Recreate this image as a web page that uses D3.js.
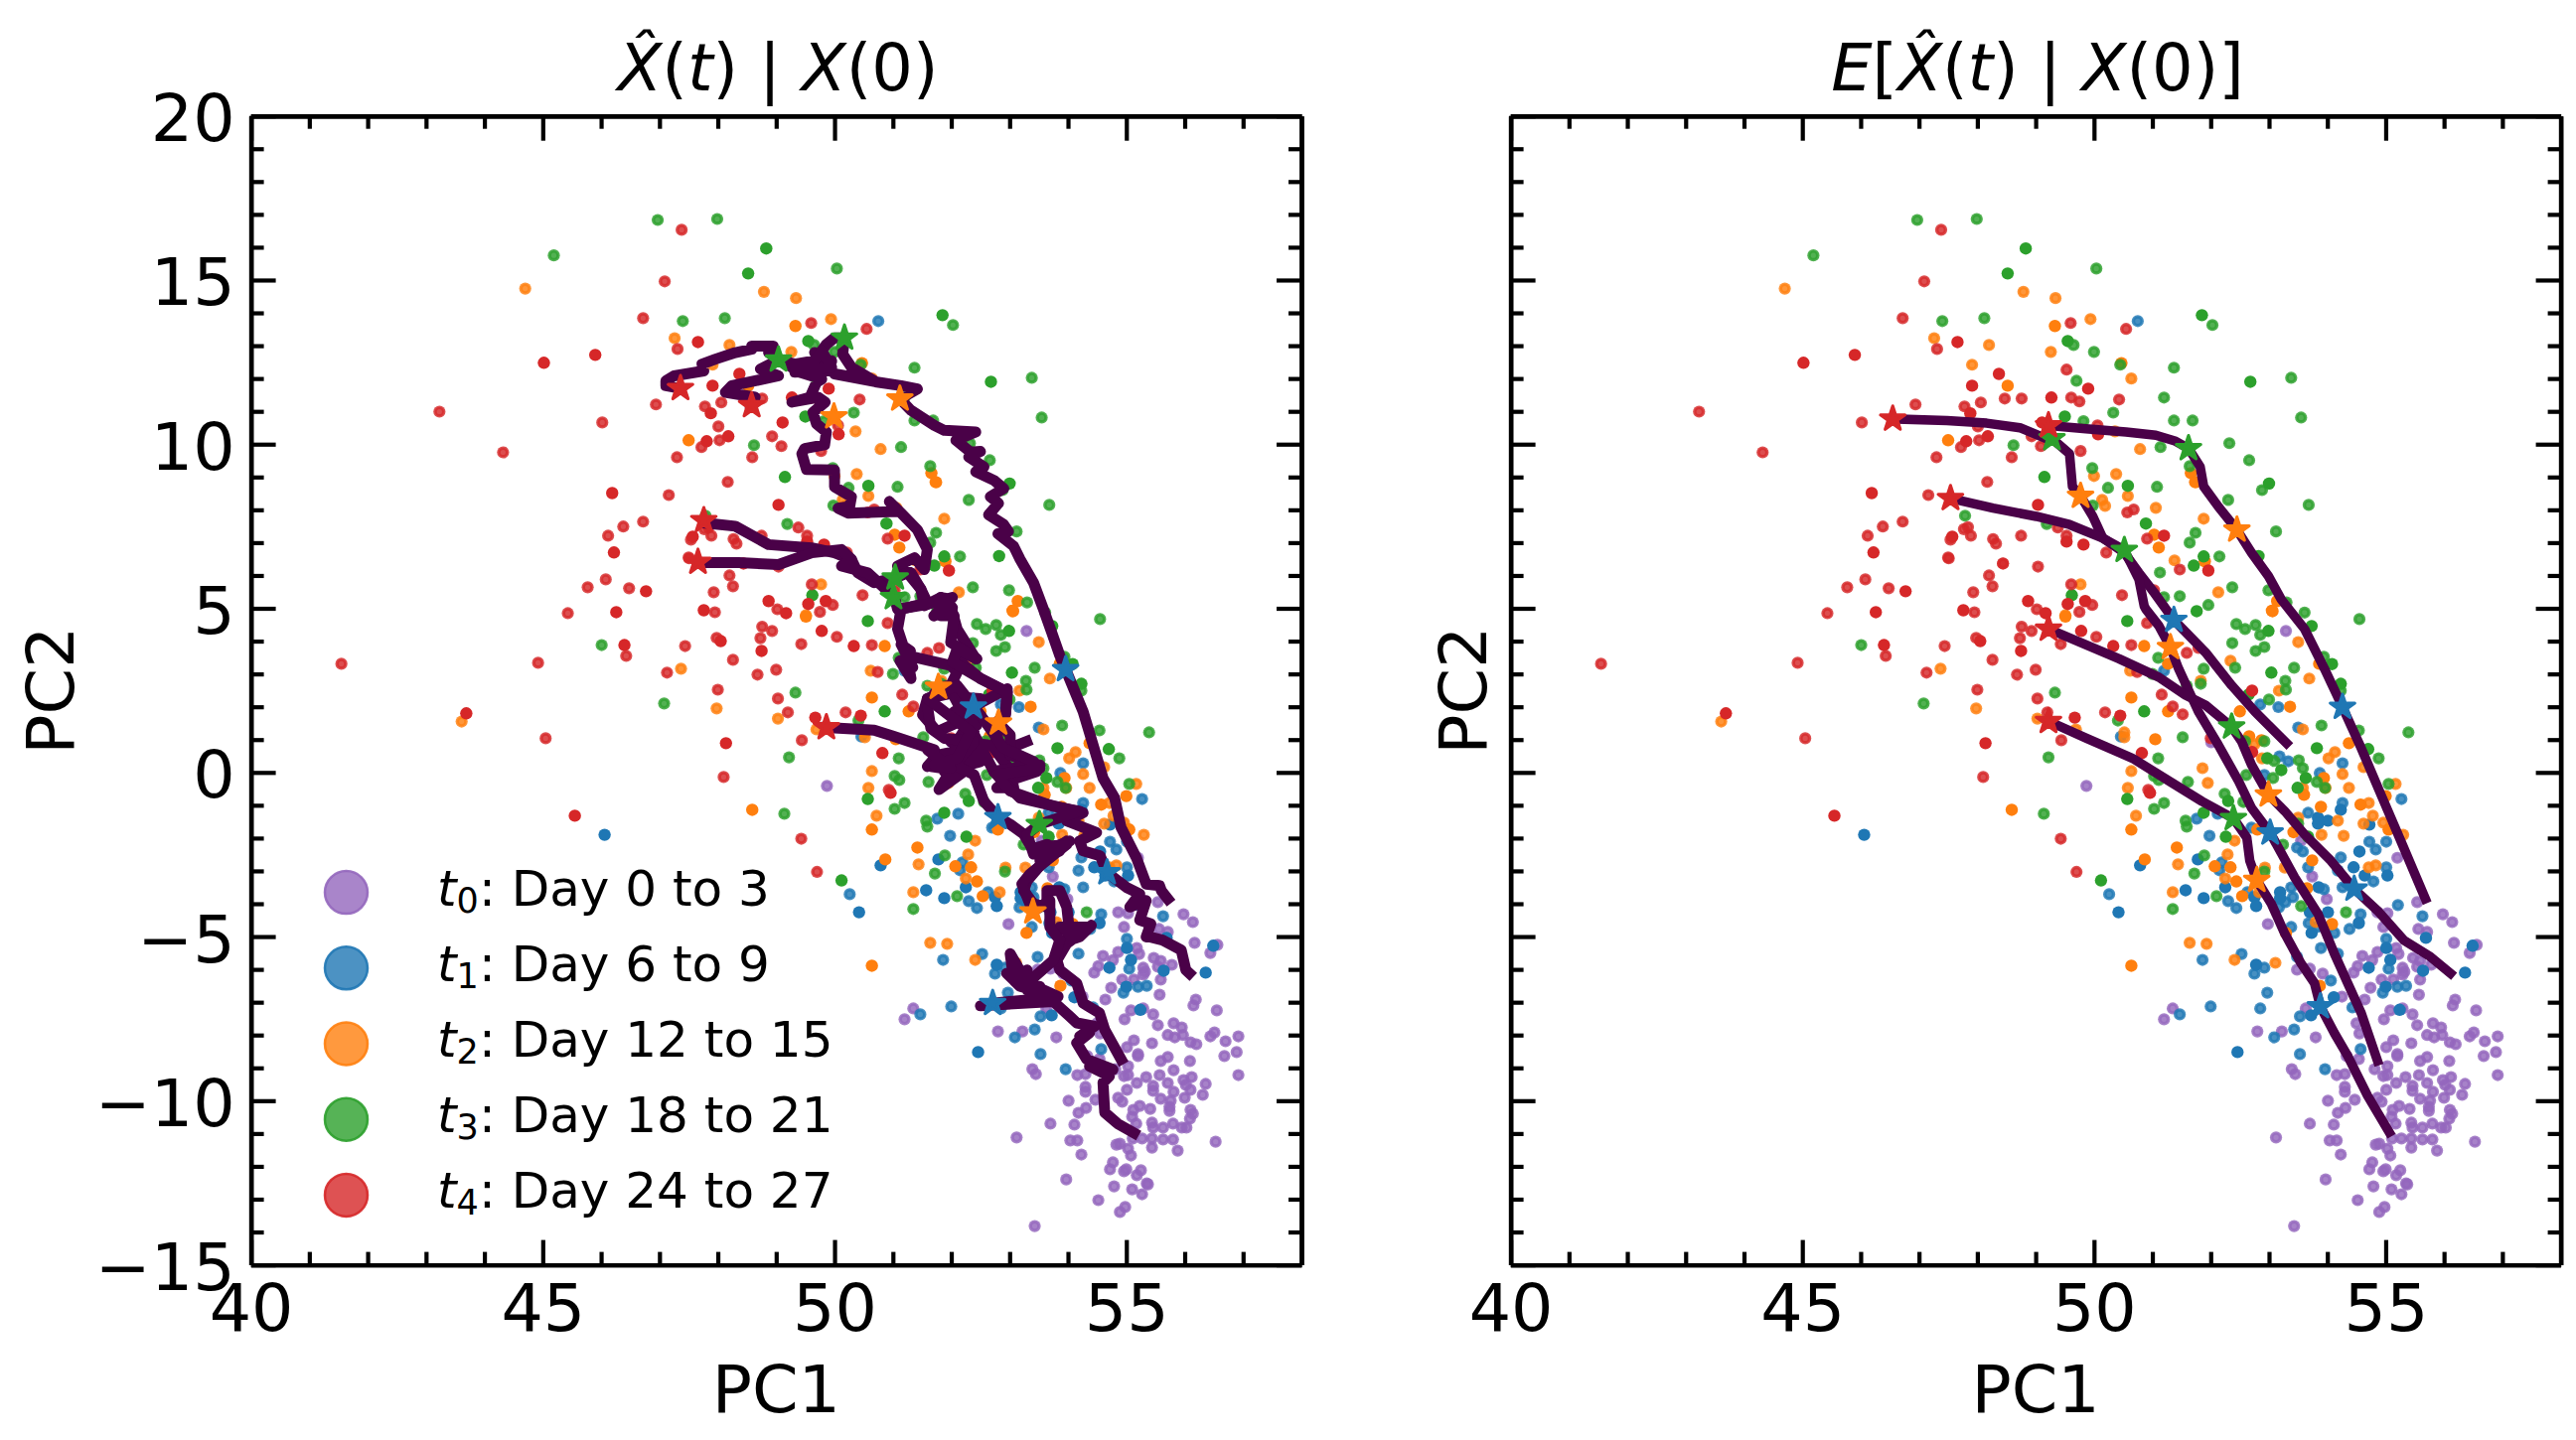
<!DOCTYPE html>
<html lang="en">
<head>
<meta charset="utf-8">
<title>PC trajectories</title>
<script src="https://cdnjs.cloudflare.com/ajax/libs/d3/7.8.5/d3.min.js"></script>
<style>
    html, body { margin: 0; padding: 0; background: #fff; }
    svg { display: block; }
    text { font-family: "DejaVu Sans", sans-serif; fill: #000; }
</style>
</head>
<body>
<div id="chart"></div>
<script>
// scatter points, [PC1, PC2]. "faded" were plotted with alpha, "solid" without
var t0Faded = [[55.2,-2.6],[53.74,-3.17],[53.99,-3.86],[52.98,-4.62],[55.54,-3.95],[55.98,-4.32],[56.14,-4.56],[54.86,-4.26],[55.03,-4.29],[54.96,-4.71],[55.56,-4.77],[55.71,-4.86],[56.17,-5.19],[56.44,-5.5],[56.56,-5.25],[54.86,-5.47],[54.77,-5.72],[54.6,-5.59],[54.52,-5.9],[54.45,-6.1],[55.18,-5.35],[55.22,-5.53],[55.47,-5.65],[55.59,-5.74],[55.54,-5.92],[55.78,-5.86],[55.29,-5.95],[55.32,-6.07],[54.93,-6.31],[55.13,-6.31],[55.29,-6.16],[55.59,-6.31],[53.92,-6.13],[53.7,-5.98],[53.48,-6.01],[54.74,-6.56],[55.57,-6.77],[56.19,-6.92],[56.15,-7.1],[56.55,-7.25],[54.64,-6.92],[54.25,-6.83],[51.35,-7.19],[51.2,-7.52],[52.8,-7.89],[53.22,-7.89],[53.8,-8.07],[53.63,-7.19],[54.5,-7.64],[54.55,-7.95],[54.97,-7.52],[55.08,-7.25],[55.29,-7.19],[55.46,-7.37],[55.54,-7.7],[55.81,-7.64],[55.95,-7.77],[55.71,-8.0],[55.83,-8.07],[55.97,-8.0],[56.1,-8.22],[56.2,-8.28],[56.44,-8.04],[56.51,-7.92],[56.7,-8.19],[56.92,-8.04],[56.68,-8.64],[56.89,-8.52],[56.92,-9.22],[55.13,-8.16],[55.01,-8.37],[55.44,-8.25],[55.2,-8.58],[55.2,-8.64],[55.71,-8.67],[55.59,-8.79],[56.09,-8.79],[54.54,-8.73],[54.33,-8.64],[55.03,-8.95],[54.81,-9.04],[54.96,-9.25],[55.03,-9.22],[55.81,-9.07],[55.57,-9.22],[55.34,-9.28],[55.18,-9.46],[55.46,-9.55],[55.71,-9.46],[56.12,-9.28],[55.98,-9.37],[56.02,-9.52],[56.36,-9.49],[56.1,-9.67],[55.46,-9.7],[55.81,-9.73],[55.01,-9.67],[56.31,-9.82],[56.0,-9.91],[55.59,-9.94],[55.76,-10.0],[54.3,-9.58],[54.3,-9.73],[54.16,-9.22],[54.3,-9.19],[53.39,-9.04],[53.45,-9.19],[54.01,-10.0],[54.47,-9.97],[54.31,-10.22],[54.18,-10.37],[54.86,-9.91],[54.93,-10.03],[55.12,-10.28],[55.23,-10.16],[55.41,-10.25],[55.74,-10.19],[55.74,-10.31],[56.1,-10.28],[56.14,-10.4],[56.09,-10.55],[55.1,-10.49],[55.17,-10.7],[55.44,-10.67],[55.46,-10.82],[55.63,-10.82],[55.8,-10.7],[55.95,-10.82],[56.03,-10.82],[54.11,-10.73],[53.7,-10.7],[53.12,-11.12],[54.04,-11.21],[54.16,-11.21],[54.23,-11.64],[54.83,-11.34],[54.89,-11.31],[55.03,-11.46],[55.08,-11.67],[55.11,-11.15],[55.27,-11.15],[55.44,-11.15],[55.44,-11.43],[55.63,-11.18],[55.8,-11.18],[55.88,-11.52],[56.53,-11.25],[54.77,-11.88],[54.72,-12.09],[54.96,-12.15],[55.0,-12.09],[55.25,-12.12],[55.18,-12.27],[55.35,-12.52],[55.37,-12.55],[53.97,-12.4],[54.79,-12.61],[55.1,-12.7],[55.27,-12.85],[54.52,-13.03],[54.98,-13.24],[54.89,-13.39],[53.43,-13.82],[53.29,4.31],[49.87,-0.41],[52.01,0.92],[53.55,-2.08]];

var t1Faded = [[50.75,13.75],[50.26,-3.71],[52.3,-3.92],[52.44,-4.13],[51.98,-1.93],[52.12,-1.26],[51.76,-1.41],[50.46,1.09],[51.2,3.1],[52.19,-2.74],[52.15,-2.98],[52.7,-1.68],[53.16,1.99],[52.85,2.07],[53.5,1.37],[53.18,0.49],[53.33,0.34],[52.92,-0.08],[54.26,0.28],[53.87,-0.02],[55.27,-0.81],[54.26,-0.93],[53.67,-1.23],[54.72,-2.11],[55.01,-2.11],[54.83,-2.35],[54.23,-2.59],[54.18,-2.99],[54.79,-3.32],[55.01,-2.89],[54.26,-3.5],[53.48,-2.29],[53.58,-2.41],[53.67,-2.89],[53.94,-3.56],[53.38,-3.5],[53.41,-3.8],[53.28,-3.95],[53.17,-4.11],[52.63,-3.65],[55.21,-4.04],[55.63,-4.38],[54.57,-4.32],[54.38,-4.77],[53.68,-4.59],[53.84,-4.7],[54.12,-4.89],[53.89,-5.35],[53.38,-4.71],[54.18,-5.52],[55.01,-5.07],[55.05,-5.98],[54.06,-6.34],[55.35,-6.5],[55.2,-6.53],[54.95,-6.71],[52.97,-6.71],[52.53,-5.53],[51.86,-5.71],[52.92,-5.95],[52.75,-6.13],[53.48,-5.62],[52.0,-7.13],[52.85,-7.19],[54.43,-7.16],[51.47,-7.37],[53.53,-7.43],[53.09,-8.07],[53.43,-7.83],[53.53,-8.58],[54.57,-8.43],[53.96,-9.04]];
var t1Solid = [[46.06,-1.9],[50.79,-2.83],[51.78,-2.65],[50.42,-4.26],[51.57,-3.59],[51.88,-3.83],[52.25,-3.5],[54.23,-1.14],[53.84,-1.38],[54.01,-1.47],[53.84,-1.56],[54.72,-1.59],[54.55,-2.41],[54.45,-2.89],[54.64,-3.14],[55.03,-3.14],[53.85,-3.5],[53.19,-3.65],[53.19,-3.83],[52.75,-3.8],[52.78,-4.07],[55.69,-5.04],[54.54,-4.59],[54.01,-4.26],[53.7,-4.26],[53.73,-4.89],[55.01,-5.35],[55.08,-5.71],[54.71,-5.95],[55.64,-6.04],[56.36,-6.1],[56.49,-5.28],[55.0,-6.53],[52.78,-5.86],[54.11,-6.85],[55.24,-7.23],[53.72,-7.4],[52.46,-8.52]];

var t2Faded = [[44.7,14.74],[43.61,1.55],[47.37,3.16],[47.98,1.95],[48.79,14.64],[49.34,14.45],[49.94,13.81],[47.26,13.23],[48.2,13.02],[49.26,12.81],[47.91,12.42],[50.64,12.0],[50.79,9.85],[50.0,9.03],[50.38,9.09],[50.58,8.42],[51.06,8.06],[50.19,8.12],[50.14,8.3],[51.88,7.73],[51.38,6.46],[52.13,5.49],[50.36,10.39],[49.77,5.73],[51.73,8.85],[49.51,4.79],[50.62,3.1],[49.03,1.64],[50.52,1.22],[50.52,1.07],[49.69,1.31],[53.58,1.31],[53.17,2.49],[52.34,3.4],[51.83,2.79],[53.5,3.97],[53.69,2.86],[54.13,0.62],[54.02,0.43],[54.62,0.16],[55.17,-0.35],[54.71,-0.93],[54.78,-1.32],[54.62,-1.56],[54.96,-1.53],[55.3,-1.9],[54.28,-1.93],[54.18,-1.47],[54.37,-0.47],[54.26,-0.05],[53.97,-0.47],[53.58,-0.47],[52.75,0.86],[52.88,0.43],[51.86,0.13],[51.95,-0.32],[50.64,0.04],[50.58,-0.47],[50.72,-1.32],[51.44,-2.8],[52.29,-2.5],[52.25,-3.23],[52.41,-2.08],[51.35,-3.65],[51.64,-5.19],[51.93,-5.22],[52.41,-5.71],[53.11,-5.8],[53.8,-4.56],[54.71,-2.89],[54.83,-2.83],[53.9,-1.9],[53.27,-2.9],[53.5,-1.38],[52.93,-2.9],[52.83,-3.65]];
var t2Solid = [[49.33,13.6],[48.52,11.78],[47.5,10.12],[50.47,12.47],[51.66,9.12],[51.03,7.24],[51.11,6.85],[51.9,6.43],[53.06,4.91],[53.14,5.22],[49.51,4.75],[51.74,8.84],[53.05,4.93],[50.86,3.85],[51.27,3.31],[50.64,2.28],[51.27,1.86],[52.5,1.86],[51.05,1.01],[53.36,2.0],[53.86,3.31],[54.37,0.89],[55.0,-0.72],[54.57,-0.98],[55.05,-1.74],[53.89,-1.05],[53.94,-0.17],[53.6,-0.68],[52.66,1.1],[52.87,0.98],[50.64,-1.74],[48.59,-1.14],[51.42,-2.29],[50.87,-2.65],[52.07,-2.86],[52.34,-2.89],[52.44,-3.32],[52.54,-3.77],[50.64,-5.89],[54.08,-4.62],[53.74,-2.68],[53.29,-4.89],[53.65,-3.53],[52.8,-1.74],[53.42,-1.82],[53.87,-6.5]];

var t3Faded = [[46.01,3.88],[47.08,2.1],[46.97,16.83],[47.99,16.86],[45.19,15.75],[50.04,15.35],[47.4,13.75],[48.12,13.84],[49.65,13.02],[50.0,12.81],[50.45,12.42],[51.37,12.33],[49.7,11.93],[51.2,11.42],[51.37,10.72],[51.69,10.72],[50.33,10.96],[49.82,10.7],[52.32,10.03],[52.66,9.51],[52.03,13.63],[51.14,9.91],[48.62,9.97],[49.97,9.27],[51.64,9.33],[50.24,8.67],[51.08,8.7],[52.88,8.6],[52.3,8.3],[47.79,7.82],[49.98,8.13],[51.74,7.3],[51.64,7.0],[53.12,7.34],[52.15,6.58],[49.19,7.57],[51.13,6.09],[52.37,5.64],[51.2,5.34],[51.47,5.37],[51.96,5.1],[52.99,5.55],[53.38,12.02],[53.55,10.81],[53.68,8.15],[53.61,4.87],[53.3,5.18],[54.55,4.67],[52.44,4.52],[52.59,4.37],[52.77,4.49],[52.85,4.19],[52.37,3.94],[52.92,3.82],[52.77,3.7],[52.42,3.19],[51.88,3.16],[53.43,3.19],[53.94,3.52],[54.23,2.49],[53.28,2.79],[53.29,2.52],[53.0,2.22],[49.33,2.43],[51.1,3.49],[51.0,3.0],[51.59,2.64],[51.83,2.7],[50.41,1.58],[51.52,1.07],[49.22,0.46],[52.92,0.95],[52.59,0.95],[53.9,1.43],[54.54,1.28],[55.39,1.22],[54.88,0.43],[55.05,-0.35],[53.09,0.35],[53.51,0.37],[53.58,0.13],[53.07,-0.17],[53.82,-0.29],[53.96,-0.47],[52.61,-0.08],[51.1,0.43],[51.03,-0.11],[51.11,-0.23],[51.61,-0.29],[51.03,-1.11],[51.2,-0.93],[49.14,-1.26],[52.24,-0.65],[52.56,-0.9],[51.57,-1.47],[51.59,-1.65],[51.72,-3.08],[51.89,-2.53],[52.1,-3.77],[51.35,-4.16],[52.92,-3.02],[53.55,-4.07],[54.32,-4.26],[53.5,-1.56],[53.24,-2.2]];
var t3Solid = [[48.83,15.96],[48.52,15.2],[49.55,13.14],[51.85,13.93],[52.68,11.9],[49.5,10.84],[49.15,9.0],[50.58,8.73],[53.0,8.8],[50.89,7.58],[51.88,6.58],[51.71,6.3],[49.62,5.4],[51.76,4.91],[52.82,6.59],[50.57,4.61],[52.99,4.31],[53.04,3.04],[53.73,4.46],[54.08,3.3],[54.23,2.7],[52.65,2.37],[50.86,1.86],[54.7,0.71],[53.82,0.74],[52.97,0.43],[53.21,0.07],[53.63,-0.17],[53.49,-0.47],[50.57,-0.81],[52.3,-0.87],[51.88,-1.23],[50.12,-3.29],[52.26,-1.96],[53.67,-1.96]];

var t4Faded = [[41.55,3.31],[44.92,3.34],[45.05,1.04],[45.43,4.85],[45.77,5.64],[46.08,5.88],[46.48,5.61],[46.43,3.55],[47.44,3.85],[47.13,3.04],[47.93,5.49],[47.95,4.88],[47.98,4.1],[48.2,6.0],[48.26,5.67],[48.26,3.43],[48.0,2.52],[48.1,-0.14],[47.51,6.52],[48.44,6.36],[43.23,10.99],[44.32,9.75],[47.38,16.53],[47.09,14.96],[46.72,13.84],[47.31,12.9],[49.6,13.69],[50.55,13.51],[49.53,12.27],[48.06,11.27],[48.47,11.39],[48.76,11.39],[47.78,11.15],[46.94,11.21],[49.61,11.42],[49.75,11.3],[50.43,11.36],[46.02,10.66],[48.01,10.54],[48.03,10.12],[47.72,9.91],[47.3,9.6],[48.59,9.6],[48.93,10.24],[49.09,9.94],[49.77,9.79],[50.06,10.57],[48.17,8.85],[47.16,8.45],[46.72,7.64],[46.38,7.49],[46.12,7.21],[48.75,7.21],[47.84,7.47],[47.89,7.21],[47.54,7.09],[47.77,7.41],[48.27,7.11],[48.32,6.97],[49.53,7.21],[49.38,7.46],[50.57,7.92],[50.68,8.01],[50.91,7.12],[47.5,6.55],[50.21,6.7],[48.44,6.37],[49.04,6.27],[51.47,6.18],[49.61,5.73],[50.48,5.4],[49.97,5.1],[49.75,4.89],[51.03,5.55],[49.02,4.97],[48.76,4.44],[48.93,4.31],[48.73,4.09],[50.04,4.13],[49.43,3.91],[50.64,3.88],[48.68,2.98],[49.0,3.13],[49.03,2.25],[49.2,1.83],[49.44,0.98],[50.19,1.83],[51.16,2.37],[51.35,2.01],[51.52,1.77],[50.91,4.55],[51.59,3.64],[50.74,3.06],[50.93,-0.53],[49.43,-2.02],[49.7,-3.03],[51.79,3.79],[52.0,1.04]];
var t4Solid = [[43.69,1.8],[45.55,-1.32],[46.77,5.52],[46.26,4.88],[46.4,3.88],[47.76,4.94],[48.05,4.0],[48.14,0.89],[46.22,6.7],[47.66,13.11],[45.9,12.72],[45.02,12.48],[48.37,12.14],[47.91,11.78],[49.9,11.69],[49.27,11.42],[47.88,10.94],[48.18,10.24],[47.81,10.09],[50.07,10.3],[49.11,10.66],[46.19,8.51],[49.04,8.15],[47.57,7.18],[49.53,7.03],[49.82,6.94],[51.2,7.21],[51.96,6.15],[48.87,5.22],[49.55,5.13],[49.85,5.22],[49.17,4.85],[49.78,4.31],[48.75,3.7],[50.33,3.85],[49.67,1.67],[50.45,1.73],[50.82,0.59],[50.96,-0.62],[52.71,2.49],[52.71,0.62]];

// noisy single-sample paths, left panel
var noisyPath1 = [[47.36,11.7],[47.11,11.78],[47.11,11.93],[47.25,12.08],[47.76,12.23],[47.73,12.44],[47.96,12.59],[48.3,12.79],[48.58,12.89],[48.58,12.99],[48.95,12.99],[48.87,12.79],[49.15,12.49],[49.27,12.34],[49.95,12.54],[49.32,12.19],[49.95,12.24],[49.66,12.79],[49.78,12.44],[49.66,12.54],[49.86,13.04],[50.0,13.24],[50.17,13.24],[50.14,12.74],[50.29,12.34],[50.68,11.93],[50.0,12.14],[50.7,11.9],[51.14,11.78],[51.42,11.68],[51.12,11.38],[51.31,11.03],[51.71,10.57],[51.88,10.42],[52.42,10.37],[52.08,10.12],[52.33,9.76],[52.5,9.78],[52.3,9.61],[52.56,9.31],[52.42,9.16],[52.73,8.9],[52.9,8.65],[52.67,8.4],[52.81,8.2],[52.64,7.85],[52.9,7.55],[52.98,7.34],[52.8,7.27],[53.07,6.89],[53.18,6.49],[53.41,5.78],[53.58,4.97],[53.72,4.27],[53.86,3.56],[53.96,3.14],[54.26,1.85],[54.43,0.84],[54.6,-0.17],[54.8,-0.78],[54.91,-1.68],[55.17,-2.59],[55.34,-3.4],[55.57,-3.45],[55.6,-3.6],[55.71,-3.85]];
var noisyPath2 = [[48.58,11.18],[48.64,11.43],[48.13,11.58],[48.24,11.78],[49.04,12.08],[48.73,12.29],[49.04,12.57],[49.32,12.44],[49.66,12.54],[49.78,12.84],[49.95,12.34],[49.32,12.24],[49.78,11.98],[49.69,11.88],[49.58,11.43],[49.27,11.28],[49.72,11.43],[49.84,11.28],[49.63,10.97],[49.69,10.62],[49.86,10.37],[49.83,9.98],[49.49,9.87],[49.44,9.71],[49.52,9.23],[50.0,9.21],[50.0,8.7],[50.29,8.4],[50.26,8.1],[50.06,8.05],[50.23,7.9],[51.08,7.95],[50.94,8.25],[51.14,7.9],[51.42,7.39],[51.59,6.79],[51.54,6.18],[51.37,6.54],[51.08,6.29],[51.31,6.08],[51.48,5.58],[51.54,5.08],[51.82,5.33],[51.99,5.07],[52.1,4.37],[52.42,3.46],[52.1,3.76],[52.16,3.36],[52.5,2.86],[52.96,2.45],[52.93,1.75],[52.96,2.55],[52.38,2.0],[52.1,2.45],[51.59,2.25],[51.51,1.75],[51.76,1.24],[52.39,1.75],[52.1,0.94],[52.62,0.84],[51.76,0.53],[51.59,0.18],[52.16,0.53],[51.79,-0.52],[52.22,0.03],[51.65,0.18],[52.44,0.64],[51.88,0.03],[52.5,0.33],[51.99,0.94],[52.39,1.24],[52.16,1.54],[52.44,1.44],[52.05,1.85],[52.5,2.25],[52.05,2.3],[52.73,0.03],[52.9,-0.07],[53.52,0.23],[52.96,-0.27],[53.47,0.03],[53.01,0.08],[53.07,-0.47],[52.78,-0.47],[53.07,-0.07],[52.73,0.74],[52.79,1.24],[52.8,0.6],[53.29,0.94]];
var noisyPath3 = [[47.76,7.6],[48.3,7.5],[48.87,6.94],[49.61,6.84],[50.0,6.69],[50.29,6.49],[50.4,6.08],[50.68,5.78],[51.04,5.93],[51.25,6.08],[51.48,5.58],[51.59,5.17],[51.14,4.97],[51.08,4.37],[51.25,3.46],[51.31,2.86],[51.12,3.4],[51.34,3.2],[51.14,3.9],[51.3,3.7],[51.25,3.56],[51.99,3.26],[52.1,3.05],[51.99,2.65],[51.78,2.6],[51.59,2.05],[51.65,1.34],[51.88,1.04],[52.39,0.94],[52.05,0.23],[52.39,-0.07],[52.56,-0.88],[52.81,-1.38],[53.01,-1.58],[53.24,-1.88],[53.41,-2.39],[53.75,-2.39],[53.98,-2.09],[53.64,-2.59],[53.3,-3.3],[53.24,-3.6],[53.41,-4.0],[53.64,-4.1],[53.64,-3.6],[53.86,-3.6],[53.98,-4.1],[54.03,-4.91],[53.86,-4.71],[54.37,-4.71],[53.86,-5.21],[54.2,-5.01],[54.4,-4.66],[53.98,-5.21],[53.81,-5.72],[53.86,-6.02],[54.15,-6.42],[54.26,-7.03],[54.54,-7.33],[54.63,-7.84],[54.91,-8.74]];
var noisyPath4 = [[47.7,6.39],[48.36,6.39],[49.04,6.33],[49.61,6.69],[50.12,6.79],[50.29,6.49],[50.12,6.29],[50.57,6.08],[51.03,5.33],[51.08,4.97],[51.59,5.12],[52.02,5.33],[51.7,4.77],[52.02,5.02],[51.82,5.33],[51.99,5.28],[51.82,4.77],[52.05,4.77],[51.99,3.96],[52.44,3.46],[52.1,3.76],[52.02,3.36],[52.5,2.86],[52.96,2.45],[52.93,1.8],[52.79,1.54],[53.01,1.14],[53.01,0.53],[53.41,0.23],[52.73,0.03],[53.18,-0.78],[54.26,-1.23],[53.98,-1.48],[54.49,-1.83],[54.2,-2.09],[54.26,-2.39],[54.55,-2.54],[54.67,-3.05],[55.0,-3.5],[55.23,-3.7],[55.06,-4.1],[55.34,-3.9],[55.23,-4.5],[55.42,-4.61],[55.34,-5.01],[55.4,-5.01],[55.62,-5.11],[55.94,-5.41],[56.02,-6.02],[56.08,-6.12]];
var noisyPath5 = [[49.86,1.37],[50.68,1.29],[51.03,1.09],[51.71,0.69],[51.59,0.69],[51.99,0.13],[51.71,0.23],[52.1,0.43],[52.33,1.24],[51.59,2.25],[52.1,2.65],[52.5,1.75],[52.9,0.74],[53.41,0.33],[53.52,0.13],[52.78,-0.07],[53.01,-0.57],[53.75,-1.03],[54.2,-1.18],[53.51,-1.58],[53.3,-1.88],[53.41,-2.49],[54.03,-2.09],[53.52,-2.69],[53.86,-2.39],[53.64,-2.19],[53.47,-2.29],[53.98,-2.19],[53.35,-3.09],[53.21,-3.4],[53.4,-4.24],[53.69,-3.9],[53.69,-4.71],[53.86,-5.11],[53.75,-5.72],[53.3,-6.42],[53.01,-5.52],[53.07,-6.32],[53.3,-6.02],[53.18,-6.52],[53.52,-6.52],[53.3,-6.63],[53.83,-6.83],[52.95,-6.12],[53.18,-6.52],[53.81,-6.83],[53.3,-6.93],[52.71,-7.03],[52.5,-7.11],[53.75,-6.98],[54.03,-7.43],[54.15,-7.63],[54.46,-7.73],[54.2,-8.04],[54.37,-7.93],[54.15,-8.24],[54.32,-8.74],[54.77,-9.05],[54.37,-8.95],[54.71,-9.25],[54.6,-9.45],[54.63,-10.36],[54.85,-10.7],[55.13,-10.98]];

var noisyStarsT1 = [[53.96,3.14],[52.38,2.0],[52.8,-1.37],[54.67,-3.05],[52.71,-7.03]];
var noisyStarsT2 = [[51.12,11.38],[49.99,10.84],[51.78,2.6],[52.81,1.51],[53.4,-4.24]];
var noisyStarsT3 = [[50.17,13.24],[49.04,12.57],[51.04,5.93],[51.01,5.33],[53.51,-1.58]];
var noisyStarsT4 = [[47.36,11.7],[48.58,11.18],[47.76,7.68],[47.66,6.41],[49.86,1.37]];

// averaged paths, right panel
var meanPath1 = [[49.22,10.57],[49.86,10.47],[50.55,10.37],[51.06,10.27],[51.4,10.09],[51.62,9.87],[51.82,9.31],[51.88,8.71],[52.13,8.1],[52.45,7.39],[52.7,6.69],[52.99,5.98],[53.21,5.27],[53.61,4.37],[53.95,3.16],[54.26,1.99],[54.58,0.74],[54.92,-0.68],[55.26,-2.09],[55.68,-3.85]];
var meanPath2 = [[46.55,10.77],[47.48,10.72],[48.16,10.64],[48.73,10.5],[49.18,10.17],[49.28,10.17],[49.58,9.71],[49.63,8.71],[49.77,8.42],[49.98,7.8],[50.15,7.14],[50.52,6.69],[50.77,6.08],[51.03,5.48],[51.37,4.64],[51.91,3.66],[52.36,2.65],[52.76,1.85],[53.3,0.89]];
var meanPath3 = [[47.54,8.35],[48.27,8.05],[49.01,7.8],[49.58,7.55],[50.15,7.14],[50.52,6.77],[50.77,5.88],[50.86,5.07],[50.89,4.97],[51.11,4.47],[51.31,3.81],[51.45,3.16],[51.79,1.85],[52.13,0.84],[52.48,-0.27],[52.7,-1.08],[53.02,-1.84],[53.44,-3.2],[53.84,-4.31],[54.12,-5.52],[54.58,-7.33],[54.86,-8.79]];
var meanPath4 = [[49.22,4.37],[50.43,3.46],[51.11,2.9],[51.57,2.35],[51.91,2.05],[52.36,1.39],[52.53,0.94],[52.7,0.23],[52.99,-0.68],[53.27,-1.18],[53.61,-1.89],[54.06,-2.69],[54.46,-3.55],[54.86,-4.21],[55.31,-5.11],[55.77,-5.62],[56.11,-6.12]];
var meanPath5 = [[49.22,1.56],[49.87,1.04],[50.66,0.43],[51.34,-0.32],[51.85,-0.88],[52.39,-1.4],[52.62,-1.99],[52.67,-2.69],[52.79,-3.28],[53.04,-4.0],[53.27,-4.91],[53.55,-5.82],[53.78,-6.42],[53.88,-7.13],[54.12,-7.94],[54.35,-8.64],[54.69,-9.85],[55.06,-10.96]];

var meanStarsT1 = [[54.26,1.99],[51.37,4.64],[53.02,-1.84],[54.46,-3.55],[53.88,-7.13]];
var meanStarsT2 = [[52.45,7.39],[49.77,8.42],[51.31,3.81],[52.99,-0.68],[52.79,-3.28]];
var meanStarsT3 = [[51.62,9.87],[49.28,10.17],[50.52,6.77],[52.36,1.39],[52.39,-1.4]];
var meanStarsT4 = [[49.22,10.57],[46.55,10.77],[47.54,8.35],[49.22,4.37],[49.22,1.56]];

var xMajor = [40, 45, 50, 55];
var xMinor = [41,42,43,44,46,47,48,49,51,52,53,54,56,57];
var yMajor = [-15,-10,-5,0,5,10,15,20];
var yMinor = [-14,-13,-12,-11,-9,-8,-7,-6,-4,-3,-2,-1,1,2,3,4,6,7,8,9,11,12,13,14,16,17,18,19];
var legendRanges = ["Day 0 to 3", "Day 6 to 9", "Day 12 to 15", "Day 18 to 21", "Day 24 to 27"];

var colors = {t0: "#9467bd", t1: "#1f77b4", t2: "#ff7f0e", t3: "#2ca02c", t4: "#d62728"};
var lineColor = "#4a0148";
var legendColors = [colors.t0, colors.t1, colors.t2, colors.t3, colors.t4];

var width = 2593, height = 1450;
var plotTop = 116.7, plotBottom = 1273.6;
var tickFont = 66.7;

var svg = d3.select("#chart").append("svg")
    .attr("width", width)
    .attr("height", height)
    .attr("viewBox", "0 0 " + width + " " + height);

var yScale = d3.scaleLinear().domain([-15, 20]).range([plotBottom, plotTop]);

function drawFaded(g, x, pts, color) {
    var dots = g.append("g").selectAll("g").data(pts).enter().append("g")
        .attr("transform", function(d) { return "translate(" + x(d[0]) + "," + yScale(d[1]) + ")"; });
    dots.append("circle").attr("r", 6.1).attr("fill", color).attr("opacity", 0.82);
    dots.append("circle").attr("r", 3.6).attr("fill", "none")
        .attr("stroke", color).attr("stroke-width", 2).attr("opacity", 0.7);
}

function drawSolid(g, x, pts, color) {
    g.append("g").selectAll("circle").data(pts).enter().append("circle")
        .attr("cx", function(d) { return x(d[0]); })
        .attr("cy", function(d) { return yScale(d[1]); })
        .attr("r", 6.2)
        .attr("fill", color);
}

function drawStars(g, x, pts, color) {
    g.append("g").selectAll("path").data(pts).enter().append("path")
        .attr("d", d3.symbol().type(d3.symbolStar).size(190))
        .attr("transform", function(d) { return "translate(" + x(d[0]) + "," + yScale(d[1]) + ")"; })
        .attr("fill", color)
        .attr("stroke", color)
        .attr("stroke-width", 3)
        .attr("stroke-linejoin", "round");
}

// one side of the box: minor then major inward ticks
function drawSide(g, axis, dx, dy, majors, minors, labels) {
    var at = "translate(" + dx + "," + dy + ")";
    var minor = g.append("g").attr("transform", at)
        .call(axis.tickValues(minors).tickSizeInner(-13).tickSizeOuter(0).tickFormat(""));
    var major = g.append("g").attr("transform", at)
        .call(axis.tickValues(majors).tickSizeInner(-25).tickSizeOuter(0).tickFormat(d3.format("d")));
    [minor, major].forEach(function(a) {
        a.selectAll("line").attr("stroke", "#000").attr("stroke-width", 4.2);
        a.select(".domain").attr("stroke", "#000").attr("stroke-width", 4.4);
    });
    if (labels) {
        major.selectAll("text").attr("font-size", tickFont).attr("fill", "#000");
    } else {
        major.selectAll("text").remove();
    }
    minor.selectAll("text").remove();
    return major;
}

function drawPanel(left, right, showYLabels, lineWidth, paths, stars) {
    var x = d3.scaleLinear().domain([40, 58]).range([left, right]);
    var g = svg.append("g");

    drawFaded(g, x, t0Faded, colors.t0);
    drawFaded(g, x, t1Faded, colors.t1);
    drawSolid(g, x, t1Solid, colors.t1);
    drawFaded(g, x, t2Faded, colors.t2);
    drawSolid(g, x, t2Solid, colors.t2);
    drawFaded(g, x, t3Faded, colors.t3);
    drawSolid(g, x, t3Solid, colors.t3);
    drawFaded(g, x, t4Faded, colors.t4);
    drawSolid(g, x, t4Solid, colors.t4);

    var line = d3.line().x(function(d) { return x(d[0]); }).y(function(d) { return yScale(d[1]); });
    g.append("g").selectAll("path").data(paths).enter().append("path")
        .attr("d", line)
        .attr("fill", "none")
        .attr("stroke", lineColor)
        .attr("stroke-width", lineWidth)
        .attr("stroke-linejoin", "round")
        .attr("stroke-linecap", "square");

    drawStars(g, x, stars[0], colors.t1);
    drawStars(g, x, stars[1], colors.t2);
    drawStars(g, x, stars[2], colors.t3);
    drawStars(g, x, stars[3], colors.t4);

    var xAxis = drawSide(g, d3.axisBottom(x), 0, plotBottom, xMajor, xMinor, true);
    xAxis.selectAll("text").attr("y", 66.4).attr("dy", 0);
    drawSide(g, d3.axisTop(x), 0, plotTop, xMajor, xMinor, false);
    var yAxis = drawSide(g, d3.axisLeft(yScale), left, 0, yMajor, yMinor, showYLabels);
    yAxis.selectAll("text").attr("x", -16).attr("dy", 25);
    drawSide(g, d3.axisRight(yScale), right, 0, yMajor, yMinor, false);
    return x;
}

var leftX = drawPanel(252.6, 1310, true, 11,
    [noisyPath1, noisyPath2, noisyPath3, noisyPath4, noisyPath5],
    [noisyStarsT1, noisyStarsT2, noisyStarsT3, noisyStarsT4]);
var rightX = drawPanel(1520.6, 2577.6, false, 9.5,
    [meanPath1, meanPath2, meanPath3, meanPath4, meanPath5],
    [meanStarsT1, meanStarsT2, meanStarsT3, meanStarsT4]);

// axis titles
[[leftX, 74], [rightX, 1496]].forEach(function(p) {
    var cx = (p[0].range()[0] + p[0].range()[1]) / 2;
    svg.append("text").attr("x", cx).attr("y", 1422)
        .attr("text-anchor", "middle").attr("font-size", tickFont).text("PC1");
    svg.append("text")
        .attr("transform", "translate(" + p[1] + "," + ((plotTop + plotBottom) / 2) + ") rotate(-90)")
        .attr("text-anchor", "middle").attr("font-size", tickFont).text("PC2");
});

function addTitle(cx, parts) {
    var t = svg.append("text").attr("x", cx).attr("y", 91)
        .attr("text-anchor", "middle").attr("font-size", 65.5);
    parts.forEach(function(p) {
        t.append("tspan").attr("font-style", p[1] ? "italic" : "normal").text(p[0]);
    });
}
addTitle(783, [["X\u0302", 1], ["(", 0], ["t", 1], [") | ", 0], ["X", 1], ["(0)", 0]]);
addTitle(2051, [["E", 1], ["[", 0], ["X\u0302", 1], ["(", 0], ["t", 1], [") | ", 0], ["X", 1], ["(0)]", 0]]);

// legend
var legend = svg.append("g");
legendRanges.forEach(function(label, i) {
    var cy = 898.6 + i * 76.2;
    legend.append("circle")
        .attr("cx", 348.5).attr("cy", cy).attr("r", 21.5)
        .attr("fill", legendColors[i]).attr("fill-opacity", 0.8)
        .attr("stroke", legendColors[i]).attr("stroke-width", 2.5).attr("stroke-opacity", 0.9);
    var t = legend.append("text").attr("x", 440).attr("y", cy + 13).attr("font-size", 50);
    t.append("tspan").attr("font-style", "italic").text("t");
    t.append("tspan").attr("font-size", 35).attr("dy", 7).text(i);
    t.append("tspan").attr("dy", -7).text(": " + label);
});
</script>
</body>
</html>
